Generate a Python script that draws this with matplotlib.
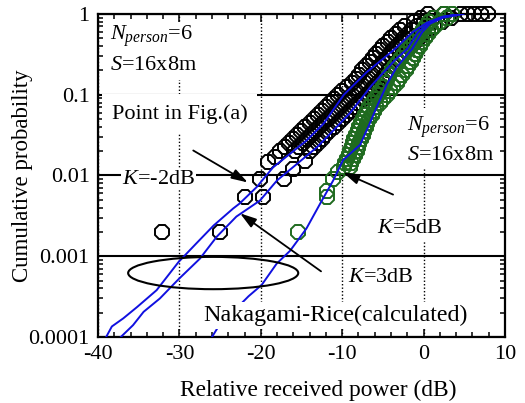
import numpy as np
import matplotlib
matplotlib.use("Agg")
import matplotlib.pyplot as plt
from matplotlib.patches import Ellipse
from matplotlib.ticker import FixedLocator, FixedFormatter, MultipleLocator, LogLocator, NullFormatter

plt.rcParams['font.family'] = ['Liberation Serif', 'DejaVu Serif']
plt.rcParams['mathtext.fontset'] = 'custom'
plt.rcParams['mathtext.rm'] = 'Liberation Serif'
plt.rcParams['mathtext.it'] = 'Liberation Serif:italic'
plt.rcParams['axes.unicode_minus'] = False

# probability levels of the dense part of the measured bands
p_levels = [0.0126, 0.0141, 0.0158, 0.0178,
            0.020, 0.0224, 0.0251, 0.0282, 0.0316, 0.0355, 0.0398, 0.0447, 0.0501, 0.0562, 0.0631,
            0.0708, 0.0794, 0.0891, 0.100, 0.112, 0.126, 0.141, 0.158, 0.178, 0.200, 0.224, 0.251,
            0.282, 0.316, 0.355, 0.398, 0.447, 0.501, 0.562, 0.631, 0.708, 0.794, 0.891, 1.0]

# measured (black) - three columns across the band, from p_levels[4:]
black_left_db = [-17.6, -17.0, -16.5, -16.0, -15.5, -15.1, -14.6, -14.0, -13.5, -13.0, -12.5, -12.0,
                 -11.5, -11.0, -10.5, -10.0, -9.4, -8.8, -8.3, -7.9, -7.6, -7.1, -6.6, -6.2, -5.8,
                 -5.4, -5.0, -4.4, -4.0, -3.4, -2.9, -2.3, -1.2, -0.3, 0.5]
black_mid_db = [-15.8, -15.3, -14.8, -14.3, -13.8, -13.3, -12.8, -12.3, -11.8, -11.3, -10.8, -10.3,
                -9.8, -9.3, -8.8, -8.3, -7.8, -7.2, -6.7, -6.3, -5.9, -5.4, -5.0, -4.5, -4.1,
                -3.7, -3.3, -2.8, -2.4, -1.9, -1.4, -0.8, 0.0, 1.2, 2.5]
black_right_db = [-14.0, -13.5, -13.0, -12.5, -12.1, -11.6, -11.0, -10.5, -10.0, -9.5, -9.0, -8.5,
                  -8.0, -7.5, -7.0, -6.5, -6.1, -5.6, -5.1, -4.7, -4.2, -3.8, -3.3, -2.9, -2.5,
                  -2.1, -1.6, -1.1, -0.6, -0.1, 0.5, 1.3, 2.2, 3.4, 4.6]
# sparse black points in the tail and at P=1
black_tail_db = [-32.2, -25.0, -21.9, -19.7, -20.1, -17.2, -19.1, -16.0, -14.6, -18.3,
                 5.4, 6.2, 7.0, 7.9]
black_tail_p = [0.002, 0.002, 0.0054, 0.0054, 0.0091, 0.0091, 0.0146, 0.012, 0.015, 0.017,
                1.0, 1.0, 1.0, 1.0]

# measured (green) - two columns, over all p_levels
green_left_db = [-9.8, -9.6, -9.4, -9.2, -9.0, -8.8, -8.7, -8.5, -8.3, -8.1, -7.9, -7.7, -7.5,
                 -7.2, -7.0, -6.7, -6.4, -6.0, -5.6, -5.3, -5.0, -4.7, -4.5, -4.3, -3.9, -3.5,
                 -3.1, -2.8, -2.4, -2.0, -1.6, -1.2, -0.8, -0.4, -0.1, 0.3, 0.7, 1.3, 2.5]
green_right_db = [-9.1, -8.9, -8.7, -8.4, -8.2, -8.0, -7.9, -7.7, -7.5, -7.3, -7.1, -6.9, -6.7,
                  -6.4, -6.1, -5.8, -5.4, -5.0, -4.5, -4.1, -3.7, -3.3, -3.0, -2.6, -2.2, -1.9,
                  -1.6, -1.3, -1.1, -0.8, -0.5, -0.2, 0.2, 0.5, 0.9, 1.4, 2.0, 2.9, 3.5]
green_tail_db = [-15.4, -11.9, -11.9, -11.1, -10.5]
green_tail_p = [0.002, 0.0054, 0.0065, 0.009, 0.011]

# Nakagami-Rice calculated curves
k_m2_db = [-39.0, -38.3, -36.9, -35.2, -32.8, -30.1, -27.9, -25.8, -23.4, -22.6, -20.5, -18.5,
           -16.4, -14.4, -12.3, -9.8, -7.0, -3.5, -1.4, 0.4, 2.2, 4.5]
k_m2_p = [1.0e-4, 1.35e-4, 1.7e-4, 2.35e-4, 3.8e-4, 8.5e-4, 1.45e-3, 2.4e-3, 3.9e-3, 4.5e-3, 7.2e-3,
          0.0126, 0.0186, 0.027, 0.0437, 0.100, 0.19, 0.37, 0.59, 0.78, 0.91, 1.0]
k_3_db = [-37.2, -35.7, -34.4, -32.4, -30.1, -27.5, -25.4, -23.0, -20.1, -18.0, -15.6, -13.1,
          -11.1, -9.0, -6.4, -3.5, -2.0, -0.7, 0.8, 2.4, 4.5]
k_3_p = [1.0e-4, 1.4e-4, 2.05e-4, 3.0e-4, 5.2e-4, 9.3e-4, 1.75e-3, 3.1e-3, 4.9e-3, 8.7e-3, 0.0138,
         0.0224, 0.036, 0.060, 0.13, 0.27, 0.37, 0.59, 0.80, 0.93, 1.0]
k_5_db = [-26.0, -25.2, -21.5, -19.9, -18.05, -16.4, -14.4, -12.7, -11.1, -9.9, -7.8, -6.8, -5.8,
          -4.5, -3.3, -1.4, -0.2, 0.8, 2.4, 4.9]
k_5_p = [1.0e-4, 1.35e-4, 3.2e-4, 4.4e-4, 8.1e-4, 1.17e-3, 2.2e-3, 4.5e-3, 8.7e-3, 0.0155, 0.024,
         0.040, 0.069, 0.135, 0.22, 0.37, 0.59, 0.76, 0.90, 1.0]

x_ticks = [-40, -30, -20, -10, 0, 10]
x_tick_labels = ['-40', '-30', '-20', '-10', '0', '10']
y_ticks = [1e-4, 1e-3, 1e-2, 1e-1, 1]
y_tick_labels = ['0.0001', '0.001', '0.01', '0.1', '1']

GREEN = '#1f6b1f'
BLUE = '#1010e0'
FS = 16

fig = plt.figure(figsize=(5.25, 4.03), dpi=100)
ax = fig.add_axes([0.1867, 0.1638, 0.7752, 0.8015])
ax.set_yscale('log')
ax.set_xlim(-40, 10)
ax.set_ylim(1e-4, 1)

ax.xaxis.set_major_locator(FixedLocator(x_ticks))
ax.xaxis.set_major_formatter(FixedFormatter(x_tick_labels))
ax.xaxis.set_minor_locator(MultipleLocator(2))
ax.yaxis.set_major_locator(FixedLocator(y_ticks))
ax.yaxis.set_major_formatter(FixedFormatter(y_tick_labels))
ax.yaxis.set_minor_locator(LogLocator(base=10, subs=np.arange(2, 10)))
ax.yaxis.set_minor_formatter(NullFormatter())

ax.tick_params(which='both', direction='in', top=True, right=True, width=1.1, labelsize=FS)
ax.tick_params(which='major', length=6, pad=6)
ax.tick_params(which='minor', length=3.5)
for s in ax.spines.values():
    s.set_linewidth(1.6)

ax.grid(True, axis='y', which='major', color='k', lw=1.5, ls='-', zorder=1)
ax.grid(True, axis='x', which='major', color='k', lw=1.0, ls=(0, (1, 1.5)), zorder=1)

mk = dict(ls='none', marker='8', ms=10.5, mfc='none', mew=1.4, clip_on=False)
black_p = p_levels[4:]
for col in [black_left_db, black_mid_db, black_right_db]:
    ax.plot(col, black_p, mec='k', zorder=3, **mk)
ax.plot(black_tail_db, black_tail_p, mec='k', zorder=3, **mk)
for col in [green_left_db, green_right_db]:
    ax.plot(col, p_levels, mec=GREEN, zorder=4, **mk)
ax.plot(green_tail_db, green_tail_p, mec=GREEN, zorder=4, **mk)

for xs, ps in [(k_m2_db, k_m2_p), (k_3_db, k_3_p), (k_5_db, k_5_p)]:
    ax.plot(xs, ps, color=BLUE, lw=1.4, zorder=5)

box = dict(facecolor='white', edgecolor='none')
txt = dict(transform=ax.transAxes, fontsize=FS, ha='left', va='center', zorder=6)
ax.text(0.029, 0.932, r'$N_{person}$=6', bbox=dict(pad=1, **box), **txt)
ax.text(0.029, 0.842, r'$S$=16x8m', bbox=dict(pad=4, **box), **txt)
ax.text(0.034, 0.690, 'Point in Fig.(a)', bbox=dict(pad=7, **box), **txt)
ax.text(0.059, 0.488, r'$K$=-2dB', bbox=dict(pad=1, **box), **txt)
ax.text(0.759, 0.648, r'$N_{person}$=6', bbox=dict(pad=5, **box), **txt)
ax.text(0.759, 0.562, r'$S$=16x8m', bbox=dict(pad=3, **box), **txt)
ax.text(0.686, 0.336, r'$K$=5dB', bbox=dict(pad=2, **box), **txt)
ax.text(0.614, 0.185, r'$K$=3dB', bbox=dict(pad=2, **box), **txt)
ax.text(0.258, 0.066, 'Nakagami-Rice(calculated)', bbox=dict(pad=2, **box),
        **{**txt, 'fontsize': 17.3})

ax.add_patch(Ellipse((0.283, 0.198), 0.418, 0.10, transform=ax.transAxes,
                     fill=False, ec='k', lw=1.5, zorder=6))

arrow = dict(arrowstyle='-|>,head_length=0.7,head_width=0.22', color='k', lw=1.3,
             mutation_scale=14, shrinkA=0, shrinkB=0)
ax.annotate('', xy=(-21.6, 0.0082), xytext=(-28.3, 0.0204), arrowprops=arrow, zorder=7)
ax.annotate('', xy=(-22.55, 0.0034), xytext=(-12.6, 6.5e-4), arrowprops=arrow, zorder=7)
ax.annotate('', xy=(-9.9, 0.0109), xytext=(-3.75, 0.0058), arrowprops=arrow, zorder=7)

ax.set_xlabel('Relative received power (dB)', fontsize=16.8)
ax.xaxis.set_label_coords(0.54, -0.132)
ax.set_ylabel('Cumulative probability', fontsize=16.5)
ax.yaxis.set_label_coords(-0.16, 0.5)

fig.savefig('out.png', dpi=100)
